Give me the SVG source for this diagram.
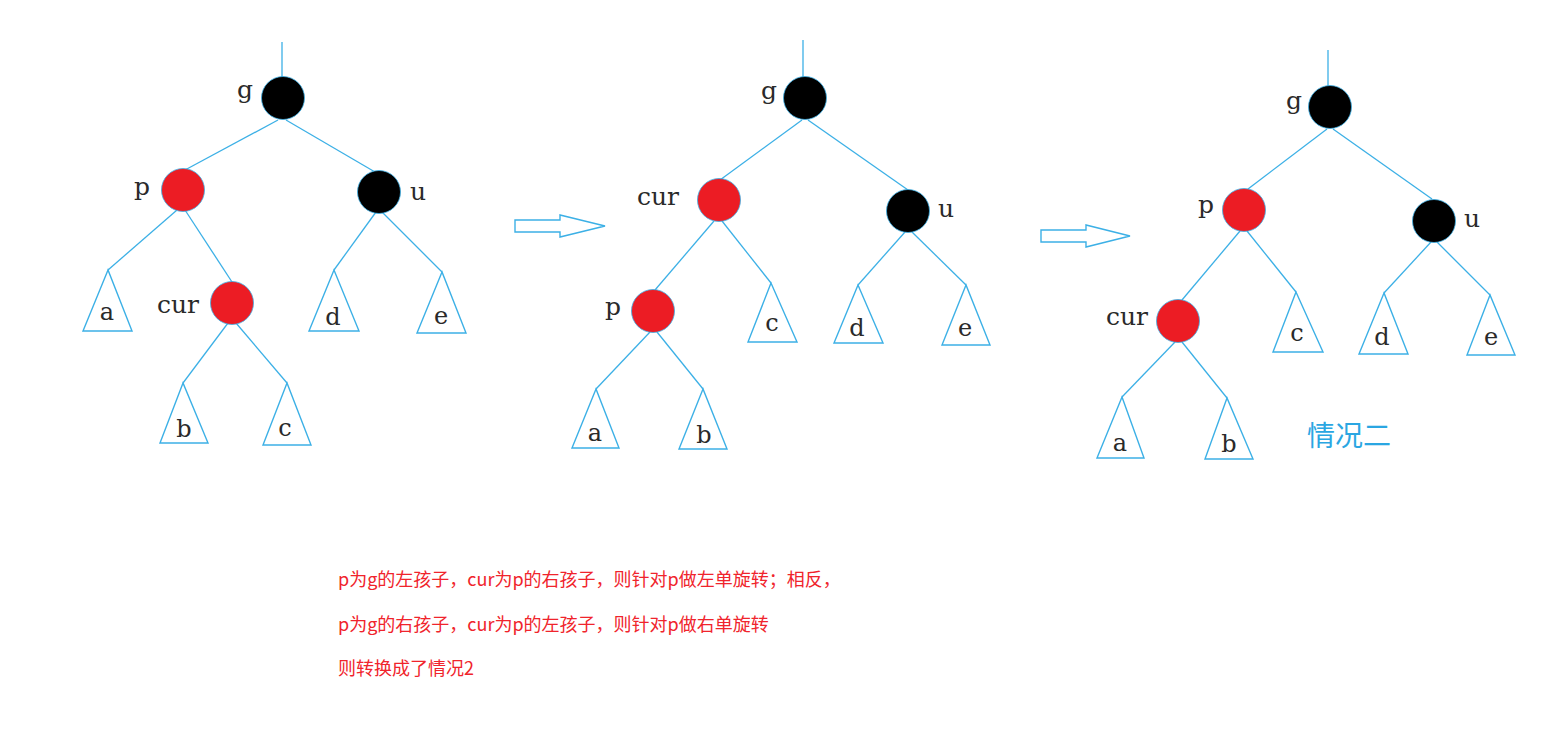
<svg xmlns="http://www.w3.org/2000/svg" width="1552" height="729" viewBox="0 0 1552 729">
<style>
.e{stroke:#3cb0e6;stroke-width:1.3;fill:none}
.t{stroke:#3cb0e6;stroke-width:1.4;fill:#fff}
.r{fill:#ec1c24;stroke:#3cb0e6;stroke-width:0.8}
.k{fill:#000;stroke:#3cb0e6;stroke-width:0.8}
.l{font-family:"DejaVu Serif","Liberation Serif",serif;font-size:25px;fill:#2a2a2a;text-anchor:middle}
.s{font-family:"DejaVu Serif","Liberation Serif",serif;font-size:24px;fill:#2a2a2a;text-anchor:middle}
.a{stroke:#3cb0e6;stroke-width:1.4;fill:#fff}
.c{font-family:"Noto Sans CJK SC",sans-serif;font-size:18px;fill:#f0242c}
</style>
<rect width="1552" height="729" fill="#fff"/>
<g id="connectors">
<line class="e" x1="282" y1="42" x2="282" y2="78"/>
<line class="e" x1="278" y1="120" x2="185" y2="170"/>
<line class="e" x1="286" y1="120" x2="375" y2="172"/>
<line class="e" x1="177" y1="210" x2="108" y2="270"/>
<line class="e" x1="185" y1="210" x2="232" y2="282"/>
<line class="e" x1="376" y1="212" x2="334" y2="270"/>
<line class="e" x1="382" y1="212" x2="442" y2="272"/>
<line class="e" x1="228" y1="323" x2="183" y2="383"/>
<line class="e" x1="236" y1="323" x2="287" y2="383"/>
<line class="e" x1="803" y1="40" x2="803" y2="77"/>
<line class="e" x1="802" y1="120" x2="720" y2="180"/>
<line class="e" x1="808" y1="120" x2="908" y2="190"/>
<line class="e" x1="714" y1="221" x2="655" y2="290"/>
<line class="e" x1="722" y1="221" x2="771" y2="283"/>
<line class="e" x1="905" y1="232" x2="858" y2="285"/>
<line class="e" x1="912" y1="232" x2="966" y2="285"/>
<line class="e" x1="650" y1="332" x2="596" y2="389"/>
<line class="e" x1="657" y1="332" x2="703" y2="389"/>
<line class="e" x1="1328" y1="50" x2="1328" y2="86"/>
<line class="e" x1="1327" y1="129" x2="1248" y2="189"/>
<line class="e" x1="1333" y1="129" x2="1432" y2="199"/>
<line class="e" x1="1240" y1="231" x2="1182" y2="300"/>
<line class="e" x1="1247" y1="231" x2="1296" y2="292"/>
<line class="e" x1="1431" y1="242" x2="1384" y2="293"/>
<line class="e" x1="1437" y1="242" x2="1490" y2="295"/>
<line class="e" x1="1175" y1="342" x2="1122" y2="397"/>
<line class="e" x1="1182" y1="342" x2="1227" y2="398"/>
</g>
<g id="arrow1"><polygon class="a" points="515,220 560,220 560,215 605,226 560,237 560,232 515,232"/></g>
<g id="arrow2"><polygon class="a" points="1041,230 1086,230 1086,225 1130,236 1086,247 1086,242 1041,242"/></g>

<g id="t1-g"><circle class="k" cx="283" cy="98" r="21.5"/><text class="l" x="245" y="98">g</text></g>
<g id="t1-p"><circle class="r" cx="183" cy="190" r="21.5"/><text class="l" x="142" y="195">p</text></g>
<g id="t1-u"><circle class="k" cx="379" cy="192" r="21.5"/><text class="l" x="418" y="200">u</text></g>
<g id="t1-cur"><circle class="r" cx="232" cy="303" r="21.5"/><text class="l" x="178" y="313">cur</text></g>
<g id="t1-a"><polygon class="t" points="108,270 83,331 132,331"/><text class="s" x="107" y="320">a</text></g>
<g id="t1-b"><polygon class="t" points="183,383 160,443 208,443"/><text class="s" x="184" y="437">b</text></g>
<g id="t1-c"><polygon class="t" points="287,383 263,445 311,445"/><text class="s" x="285" y="436">c</text></g>
<g id="t1-d"><polygon class="t" points="334,270 309,331 359,331"/><text class="s" x="333" y="325">d</text></g>
<g id="t1-e"><polygon class="t" points="442,272 417,333 466,333"/><text class="s" x="441" y="324">e</text></g>

<g id="t2-g"><circle class="k" cx="805" cy="98" r="21.5"/><text class="l" x="769" y="99">g</text></g>
<g id="t2-cur"><circle class="r" cx="719" cy="200" r="21.5"/><text class="l" x="658" y="205">cur</text></g>
<g id="t2-u"><circle class="k" cx="908" cy="211" r="21.5"/><text class="l" x="946" y="217">u</text></g>
<g id="t2-p"><circle class="r" cx="653" cy="311" r="21.5"/><text class="l" x="613" y="315">p</text></g>
<g id="t2-a"><polygon class="t" points="596,389 572,448 619,448"/><text class="s" x="595" y="441">a</text></g>
<g id="t2-b"><polygon class="t" points="703,389 679,449 727,449"/><text class="s" x="704" y="443">b</text></g>
<g id="t2-c"><polygon class="t" points="771,283 748,342 797,342"/><text class="s" x="772" y="331">c</text></g>
<g id="t2-d"><polygon class="t" points="858,285 834,343 883,343"/><text class="s" x="857" y="336">d</text></g>
<g id="t2-e"><polygon class="t" points="966,285 942,345 990,345"/><text class="s" x="965" y="336">e</text></g>

<g id="t3-g"><circle class="k" cx="1330" cy="107" r="21.5"/><text class="l" x="1294" y="109">g</text></g>
<g id="t3-p"><circle class="r" cx="1244" cy="210" r="21.5"/><text class="l" x="1206" y="213">p</text></g>
<g id="t3-u"><circle class="k" cx="1434" cy="221" r="21.5"/><text class="l" x="1472" y="227">u</text></g>
<g id="t3-cur"><circle class="r" cx="1178" cy="321" r="21.5"/><text class="l" x="1127" y="325">cur</text></g>
<g id="t3-a"><polygon class="t" points="1122,397 1097,458 1144,458"/><text class="s" x="1120" y="451">a</text></g>
<g id="t3-b"><polygon class="t" points="1227,398 1205,459 1253,459"/><text class="s" x="1229" y="452">b</text></g>
<g id="t3-c"><polygon class="t" points="1296,292 1273,352 1323,352"/><text class="s" x="1297" y="341">c</text></g>
<g id="t3-d"><polygon class="t" points="1384,293 1359,354 1408,354"/><text class="s" x="1382" y="345">d</text></g>
<g id="t3-e"><polygon class="t" points="1490,295 1467,355 1515,355"/><text class="s" x="1491" y="345">e</text></g>
<text x="1307" y="446" font-family="Noto Sans CJK SC,sans-serif" font-size="28" fill="#2aa6e2">情况二</text>

<text class="c" x="338" y="586">p为g的左孩子，cur为p的右孩子，则针对p做左单旋转；相反，</text>
<text class="c" x="338" y="631">p为g的右孩子，cur为p的左孩子，则针对p做右单旋转</text>
<text class="c" x="338" y="675">则转换成了情况2</text>
</svg>
